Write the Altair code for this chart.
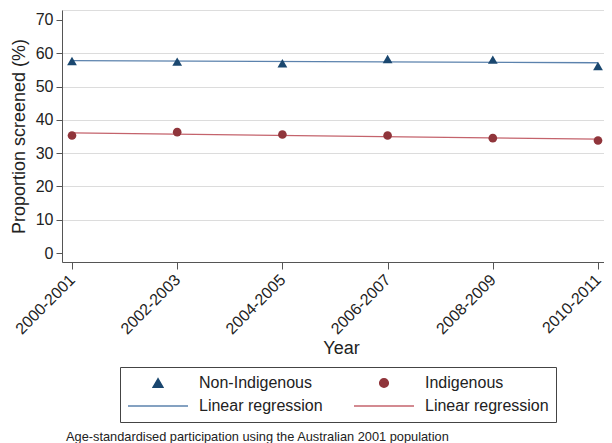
import altair as alt
import pandas as pd

FONT = "Liberation Sans"

periods = ["2000-2001", "2002-2003", "2004-2005", "2006-2007", "2008-2009", "2010-2011"]
non_indigenous = [57.7, 57.5, 57.0, 58.3, 58.1, 56.2]
indigenous = [35.3, 36.3, 35.6, 35.3, 34.5, 33.8]
group_names = ["Non-Indigenous", "Indigenous"]
y_ticks = [0, 10, 20, 30, 40, 50, 60, 70]
caption = "Age-standardised participation using the Australian 2001 population"

rows = []
for i, p in enumerate(periods):
    rows.append({"x": i, "key": group_names[0], "value": non_indigenous[i]})
    rows.append({"x": i, "key": group_names[1], "value": indigenous[i]})
df = pd.DataFrame(rows)

keys = ["Non-Indigenous", "Indigenous",
        "Linear regression (Non-Indigenous)", "Linear regression (Indigenous)"]
colors = ["#1a476f", "#90353b", "#5b82ad", "#c4636c"]
shapes = ["triangle-up", "circle", "stroke", "stroke"]
sizes = [95, 75, 3600, 3600]

label_array = "[" + ",".join("'" + p + "'" for p in periods) + "]"

xscale = alt.Scale(domain=[-0.095, 5.057], nice=False, zero=False)
yscale = alt.Scale(domain=[-2.7, 73], nice=False, zero=False)

xaxis = alt.Axis(
    values=list(range(len(periods))),
    labelExpr=label_array + "[datum.value]",
    labelAngle=-45, labelAlign="right", labelBaseline="middle",
    labelFontSize=16, labelFont=FONT, labelColor="#222222", labelPadding=8,
    tickSize=7, tickColor="#555555", domainColor="#555555", grid=False,
    title="Year", titleFont=FONT, titleFontSize=18, titleFontWeight="normal",
    titleColor="#222222", titleX=279, titleY=86, titleBaseline="middle",
)
yaxis = alt.Axis(
    values=y_ticks,
    labelFontSize=16, labelFont=FONT, labelColor="#222222", labelPadding=3,
    tickSize=6, tickColor="#555555", domainColor="#555555",
    grid=True, gridColor="#dcdcdc", gridWidth=1.2,
    gridOpacity={"condition": {"test": "datum.value == 0 || datum.value == 70", "value": 0}, "value": 1},
    title="Proportion screened (%)", titleFont=FONT, titleFontSize=18,
    titleFontWeight="normal", titleColor="#222222",
    titleX=-43, titleY=126, titleBaseline="middle",
)

legend = alt.Legend(
    title=None, orient="none", legendX=58, legendY=357, columns=2,
    direction="horizontal",
    columnPadding=30, rowPadding=5, clipHeight=18, padding=7,
    strokeColor="#444444", fillColor="white",
    labelFont=FONT, labelFontSize=16, labelColor="#222222", labelOffset=10,
    labelExpr="split(datum.label, ' (')[0]", symbolOpacity=1,
    symbolStrokeWidth=1.5,
    symbolStrokeColor=alt.ExprRef(expr="scale('color', datum.value)"),
)

color_scale = alt.Scale(domain=keys, range=colors)
shape_scale = alt.Scale(domain=keys, range=shapes)
size_scale = alt.Scale(type="ordinal", domain=keys, range=sizes)

lines = alt.Chart(df).transform_regression(
    "x", "value", groupby=["key"]
).transform_calculate(
    key="'Linear regression (' + datum.key + ')'"
).mark_line(strokeWidth=1.3).encode(
    x=alt.X("x:Q", scale=xscale, axis=xaxis),
    y=alt.Y("value:Q", scale=yscale, axis=yaxis),
    color=alt.Color("key:N", scale=color_scale, legend=legend),
)

points = alt.Chart(df).mark_point(filled=True, opacity=1).encode(
    x=alt.X("x:Q", scale=xscale, axis=xaxis),
    y=alt.Y("value:Q", scale=yscale, axis=yaxis),
    color=alt.Color("key:N", scale=color_scale, legend=legend),
    shape=alt.Shape("key:N", scale=shape_scale, legend=legend),
    size=alt.Size("key:N", scale=size_scale, legend=legend),
)

chart = alt.layer(lines, points).properties(
    width=542, height=252,
    autosize="none",
    padding={"left": 54, "top": 2, "right": 0, "bottom": 181},
    title=alt.TitleParams(
        text=caption, orient="bottom", anchor="start", frame="group",
        font=FONT, fontSize=12.8, fontWeight="normal", color="#222222",
        offset=8, dx=4,
    ),
).configure_view(stroke=None).configure(background="white")

chart.save("out.html", embed_options={"renderer": "svg", "actions": False})
